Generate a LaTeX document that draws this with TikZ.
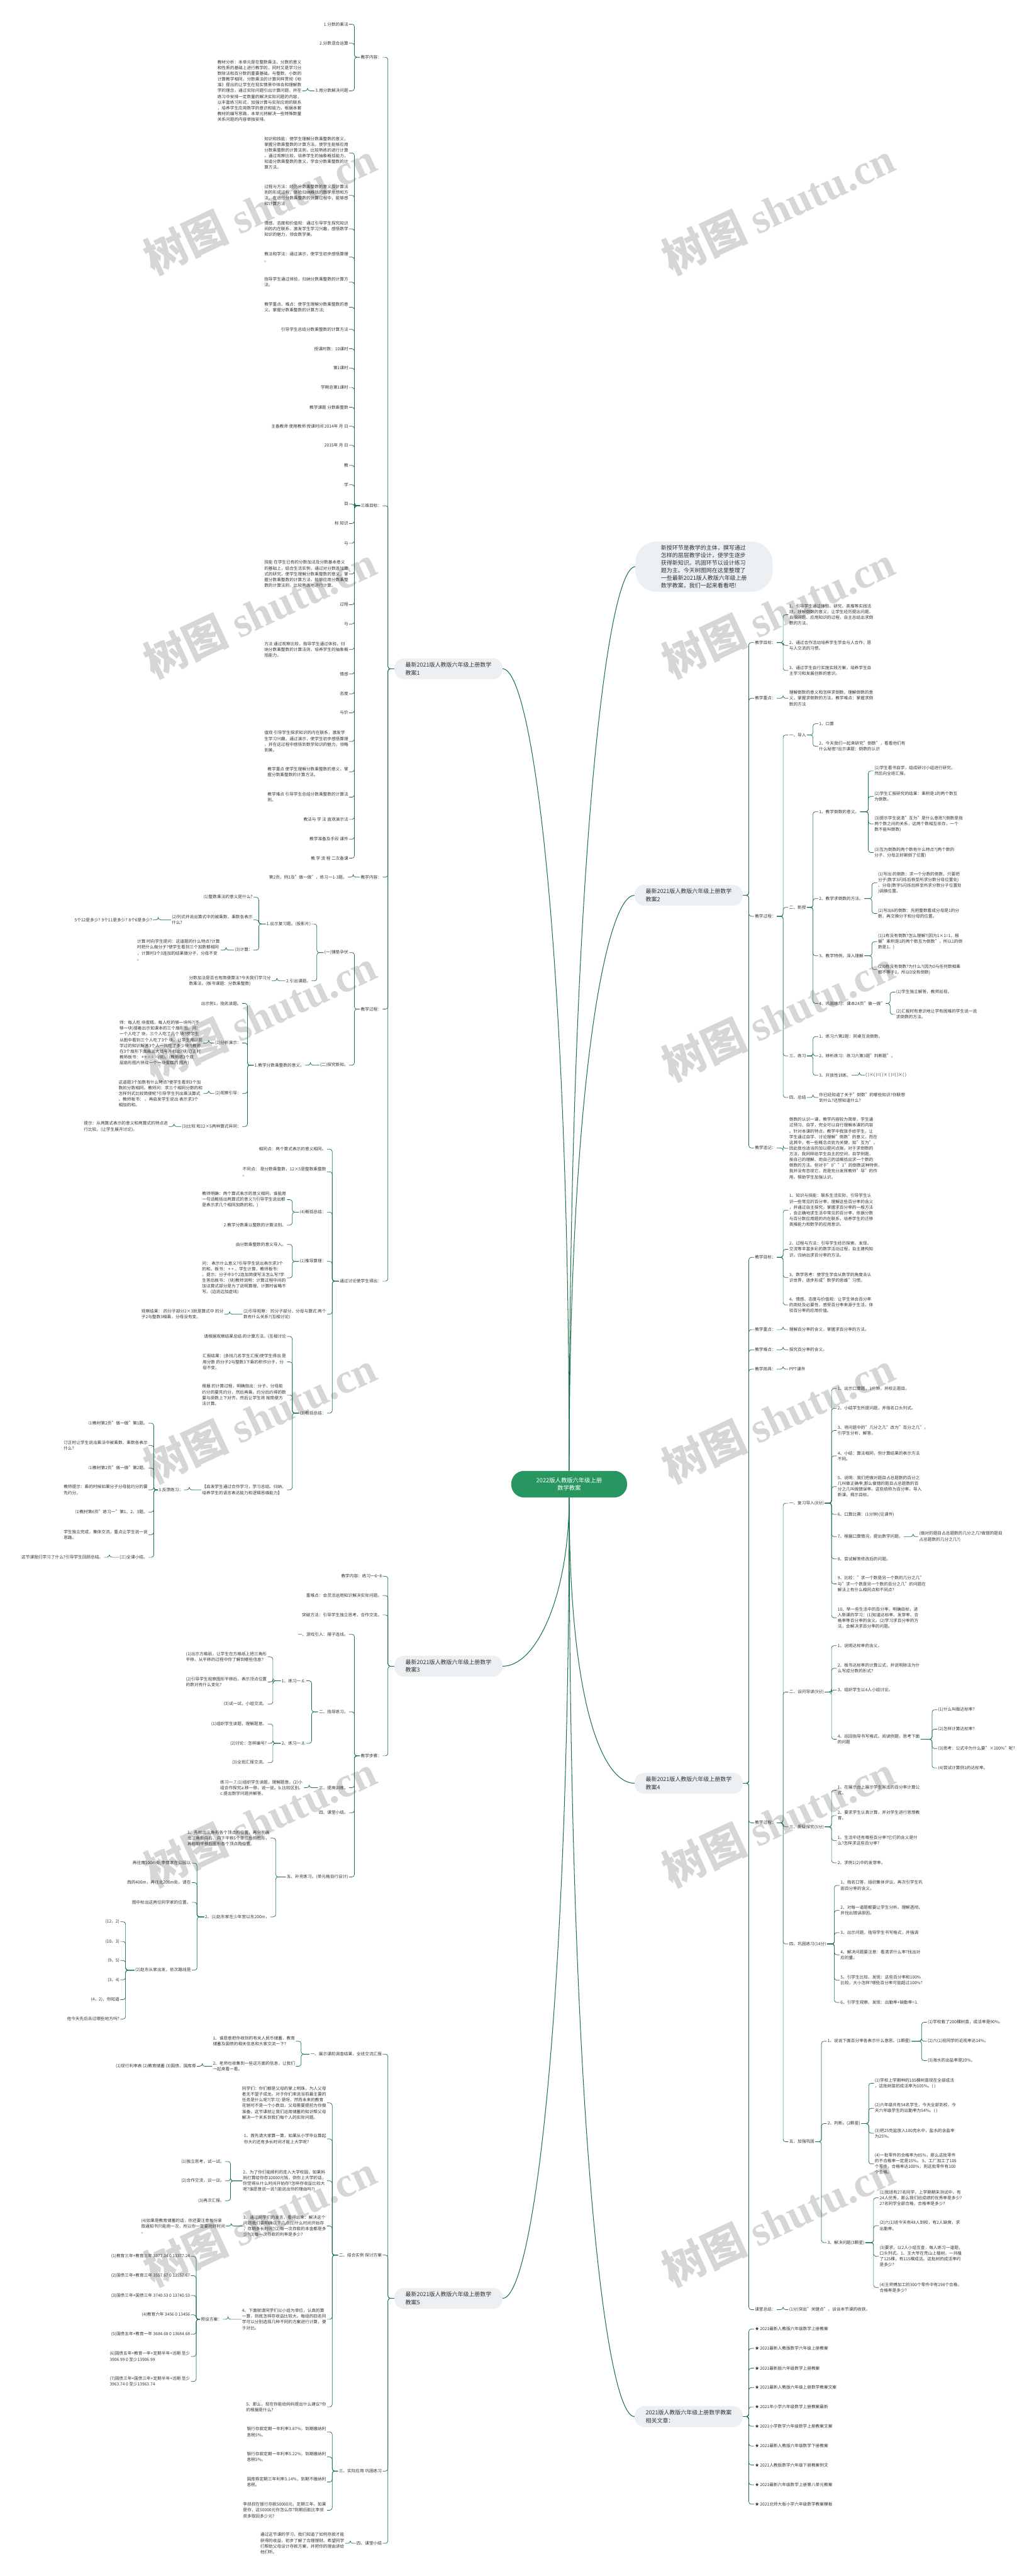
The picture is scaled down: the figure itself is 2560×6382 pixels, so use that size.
\documentclass[tikz,border=0pt]{standalone}
\usepackage{fontspec}
\setmainfont{Noto Sans CJK SC}
\newfontfamily\wmlatin{Liberation Serif}
\definecolor{branchgreen}{RGB}{24,112,70}
\definecolor{rootgreen}{RGB}{40,150,96}
\definecolor{topicgray}{RGB}{236,240,243}
\definecolor{inkgray}{RGB}{51,51,51}
\definecolor{markgray}{RGB}{214,214,214}

\begin{document}
\begin{tikzpicture}[
    x=1pt, y=-1pt,
    txt/.style={font=\fontsize{10.4}{14.2}\selectfont, text=inkgray, inner sep=2pt, align=left},
    lnote/.style={txt, anchor=east},
    rnote/.style={txt, anchor=west},
    topic/.style={fill=topicgray, rounded corners=24pt, minimum width=268pt, minimum height=52pt, inner xsep=24pt, align=left, font=\fontsize{14}{19}\selectfont, text=inkgray},
    intro/.style={fill=topicgray, rounded corners=52pt, minimum width=340pt, minimum height=124pt, align=left, font=\fontsize{14}{18.5}\selectfont, text=inkgray},
    rootbox/.style={fill=rootgreen, rounded corners=32pt, minimum width=287pt, minimum height=66pt, align=center, font=\fontsize{14.5}{19}\selectfont, text=white},
    trunk/.style={draw=branchgreen, line width=1.6pt},
    tol/.style={every edge/.style={draw=branchgreen, line width=1.1pt, rounded corners=6pt, to path={-| ([xshift=13pt]\tikztotarget.east) -- (\tikztotarget.east)}}},
    tor/.style={every edge/.style={draw=branchgreen, line width=1.1pt, rounded corners=6pt, to path={-| ([xshift=-13pt]\tikztotarget.west) -- (\tikztotarget.west)}}},
    wmark/.style={text=markgray, rotate=25, font=\fontsize{105}{105}\selectfont\bfseries}
]

% page
\fill[white] (0,0) rectangle (2560,6382);
\useasboundingbox (0,0) rectangle (2560,6382);

% watermarks
\foreach \y [count=\k] in {515,1515,2515,3510,4510,5500} {
  \node[wmark] (wml\k) at (644,\y) {树图 {\wmlatin shutu.cn}};
  \node[wmark] (wmr\k) at (1928,\y) {树图 {\wmlatin shutu.cn}};
}

% centre
\node[rootbox] (root) at (1410,3677) {2022版人教版六年级上册\\数学教案};

% main topics
\node[topic] (L1) at (1111,1657) {最新2021版人教版六年级上册数学\\教案1};
\node[topic] (L3) at (1111,4128) {最新2021版人教版六年级上册数学\\教案3};
\node[topic] (L5) at (1111,5694) {最新2021版人教版六年级上册数学\\教案5};
\node[intro] (R0) at (1744,1404) {新授环节是教学的主体，撰写通过\\怎样的层层教学设计，使学生逐步\\获得新知识。巩固环节以设计练习\\题为主。今天树图网在这里整理了\\一些最新2021版人教版六年级上册\\数学教案，我们一起来看看吧!};
\node[topic] (R2) at (1706,2218) {最新2021版人教版六年级上册数学\\教案2};
\node[topic] (R4) at (1706,4418) {最新2021版人教版六年级上册数学\\教案4};
\node[topic] (R6) at (1706,5987) {2021版人教版六年级上册数学教案\\相关文章：};

\draw[trunk] (root.north) .. controls (1410,2350) and (1320,1657) .. (L1.east);
\draw[trunk] (root.north) .. controls (1410,2200) and (1500,1404) .. (R0.west);
\draw[trunk] (root.north) .. controls (1410,2700) and (1500,2218) .. (R2.west);
\draw[trunk] (root.south) .. controls (1410,3950) and (1330,4128) .. (L3.east);
\draw[trunk] (root.south) .. controls (1410,4250) and (1500,4418) .. (R4.west);
\draw[trunk] (root.south) .. controls (1410,5000) and (1320,5694) .. (L5.east);
\draw[trunk] (root.south) .. controls (1410,5250) and (1500,5987) .. (R6.west);

% ---------------- 教案1 ----------------
\node[lnote] (L1a) at (948,142) {教学内容：};
\node[lnote] (L1b) at (948,1253) {三维目标：};
\node[lnote] (L1c) at (948,2173) {教学内容：};
\node[lnote] (L1d) at (948,2500) {教学过程：};
\node[lnote] (L1e) at (948,3174) {通过讨论使学生得出：};
\path[tol] (L1.west) edge (L1a) edge (L1b) edge (L1c) edge (L1d) edge (L1e);

\node[lnote] (L1a1) at (865,60) {1.分数的乘法};
\node[lnote] (L1a2) at (865,107) {2.分数混合运算};
\node[lnote] (L1a3) at (865,225) {3.用分数解决问题};
\node[lnote] (L1a3a) at (749,225) {教材分析：本单元是在整数乘法、分数的意义\\和性质的基础上进行教学的，同时又是学习分\\数除法和百分数的重要基础。与整数、小数的\\计算教学相同，分数乘法的计算同样贯彻《标\\准》提出的让学生在现实情景中体会和理解数\\学的理念，通过实际问题引出计算问题，并在\\练习中安排一定数量的解决实际问题的内容，\\以丰富练习形式，加强计算与实际应用的联系\\，培养学生应用数学的意识和能力。根据本套\\教材的编写思路，本单元将解决一些特殊数量\\关系问题的内容单独安排。};
\path[tol] (L1a.west) edge (L1a1) edge (L1a2) edge (L1a3);
\path[tol] (L1a3.west) edge (L1a3a);

% 三维目标
\node[lnote] (L1b1) at (865,379) {知识和技能：使学生理解分数乘整数的意义，\\掌握分数乘整数的计算方法。使学生能够应用\\分数乘整数的计算法则，比较熟练的进行计算\\。通过观察比较，培养学生的抽象概括能力，\\知道分数乘整数的意义，学会分数乘整数的计\\算方法。};
\node[lnote] (L1b2) at (865,484) {过程与方法：经历分数乘整数的意义及计算法\\则的形成过程，体验归纳概括的数学思想和方\\法。在进行分数乘整数的计算过程中，能够感\\知计算方法};
\node[lnote] (L1b3) at (865,567) {情感、态度和价值观：通过引导学生探究知识\\间的内在联系，激发学生学习兴趣，感悟数学\\知识的魅力，领会数学美。};
\node[lnote] (L1b4) at (865,637) {教法和学法：通过演示，使学生初步感悟算理\\。};
\node[lnote] (L1b5) at (865,699) {指导学生通过体验，归纳分数乘整数的计算方\\法。};
\node[lnote] (L1b6) at (865,761) {教学重点、难点：使学生理解分数乘整数的意\\义。掌握分数乘整数的计算方法;};
\node[lnote] (L1b7) at (865,816) {引导学生总结分数乘整数的计算方法};
\node[lnote] (L1b8) at (865,864) {授课时数：10课时};
\node[lnote] (L1b9) at (865,912) {第1课时};
\node[lnote] (L1b10) at (865,960) {学期总第1课时};
\node[lnote] (L1b11) at (865,1009) {教学课题 分数乘整数};
\node[lnote] (L1b12) at (865,1056) {主备教师 使用教师 授课时间 2014年 月 日};
\node[lnote] (L1b13) at (865,1103) {2015年 月 日};
\node[lnote] (L1b14) at (865,1153) {教};
\node[lnote] (L1b15) at (865,1201) {学};
\node[lnote] (L1b16) at (865,1249) {目};
\node[lnote] (L1b17) at (865,1297) {标 知识};
\node[lnote] (L1b18) at (865,1346) {与};
\node[lnote] (L1b19) at (865,1422) {技能 在学生已有的分数加法及分数基本意义\\的基础上，结合生活实例，通过对分数连加算\\式的研究，使学生理解分数乘整数的意义，掌\\握分数乘整数的计算方法，能够应用分数乘整\\数的计算法则，比较熟练地进行计算。};
\node[lnote] (L1b20) at (865,1498) {过程};
\node[lnote] (L1b21) at (865,1546) {与};
\node[lnote] (L1b22) at (865,1609) {方法 通过观察比较，指导学生通过体验，归\\纳分数乘整数的计算法则，培养学生的抽象概\\括能力。};
\node[lnote] (L1b23) at (865,1670) {情感};
\node[lnote] (L1b24) at (865,1719) {态度};
\node[lnote] (L1b25) at (865,1766) {与价};
\node[lnote] (L1b26) at (865,1837) {值观 引导学生探求知识的内在联系，激发学\\生学习兴趣。通过演示，使学生初步感悟算理\\，并在这过程中感悟到数学知识的魅力，领略\\到美。};
\node[lnote] (L1b27) at (865,1912) {教学重点 使学生理解分数乘整数的意义，掌\\握分数乘整数的计算方法。};
\node[lnote] (L1b28) at (865,1975) {教学难点 引导学生总结分数乘整数的计算法\\则。};
\node[lnote] (L1b29) at (865,2030) {教法与 学 法 直观演示法};
\node[lnote] (L1b30) at (865,2079) {教学准备及手段 课件};
\node[lnote] (L1b31) at (865,2126) {教 学 流 程 二次备课};
\foreach \i in {1,...,31} \path[tol] (L1b.west) edge (L1b\i);

\node[lnote] (L1c1) at (862,2173) {第2页，例1及"做一做"，练习一1-3题。};
\path[tol] (L1c.west) edge (L1c1);

% 教学过程
\node[lnote] (L1d1) at (865,2360) {(一)铺垫孕伏};
\node[lnote] (L1d2) at (865,2639) {(二)探究新知。};
\path[tol] (L1d.west) edge (L1d1) edge (L1d2);
\node[lnote] (L1d1a) at (772,2289) {1.出示复习题。(投影片)};
\node[lnote] (L1d1b) at (772,2430) {2.引出课题。};
\path[tol] (L1d1.west) edge (L1d1a) edge (L1d1b);
\node[lnote] (L1d1a1) at (628,2223) {(1)整数乘法的意义是什么?};
\node[lnote] (L1d1a2) at (628,2279) {(2)列式并说出算式中的被乘数、乘数各表示\\什么?};
\node[lnote] (L1d1a3) at (628,2354) {(3)计算：};
\path[tol] (L1d1a.west) edge (L1d1a1) edge (L1d1a2) edge (L1d1a3);
\node[lnote] (L1d1a2x) at (379,2279) {5个12是多少? 9个11是多少? 8个6是多少?};
\node[lnote] (L1d1a3x) at (547,2354) {计算 时向学生提问：这道题的什么特点?计算\\时把什么做分子?使学生看到三个加数都相同\\，计算时3个3连加的结果做分子，分母不变\\。};
\node[lnote] (L1d1bx) at (673,2430) {分数加法是否也有简便算法?今天我们学习分\\数乘法。(板书课题：分数乘整数)};
\path[tol] (L1d1a2.west) edge (L1d1a2x);
\path[tol] (L1d1a3.west) edge (L1d1a3x);
\path[tol] (L1d1b.west) edge (L1d1bx);

\node[lnote] (L1d2a) at (756,2639) {1.教学分数乘整数的意义。};
\path[tol] (L1d2.west) edge (L1d2a);
\node[lnote] (L1d2a1) at (600,2486) {出示例1，指名读题。};
\node[lnote] (L1d2a2) at (600,2584) {(1)分析演示：};
\node[lnote] (L1d2a3) at (600,2709) {(2)观察引导：};
\node[lnote] (L1d2a4) at (600,2791) {(3)比较 和12×5两种算式异同：};
\path[tol] (L1d2a.west) edge (L1d2a1) edge (L1d2a2) edge (L1d2a3) edge (L1d2a4);
\node[lnote] (L1d2a2x) at (504,2584) {师：每人吃 块蛋糕，每人吃的够一块吗?(不\\够一块)接着出示如课本的三个扇形图。问：\\一个人吃了 块，三个人吃了几个 块?使学生\\从图中看到三个人吃了3个 块。让学生用以前\\学过的知识解答3个人一共吃了多少块?(教师\\在3个扇形下面画出大括号并标出?块)订正时\\教师板书： + + = = = (块)。(教师将3个双\\层扇形图片拼成一个一块蛋糕的 图片)};
\node[lnote] (L1d2a3x) at (504,2709) {这道题3个加数有什么特点?使学生看到3个加\\数的分数相同。教师问：求三个相同分数的和\\怎样列式比较简便呢?引导学生列出乘法算式\\。教师板书： 。再启发学生说出 表示求3个\\相加的和。};
\node[lnote] (L1d2a4x) at (418,2791) {提示：从两算式表示的意义和两算式的特点进\\行比较。(让学生展开讨论)。};
\path[tol] (L1d2a2.west) edge (L1d2a2x);
\path[tol] (L1d2a3.west) edge (L1d2a3x);
\path[tol] (L1d2a4.west) edge (L1d2a4x);

% 通过讨论使学生得出
\node[lnote] (L1e1) at (810,2847) {相同点：两个算式表示的意义相同。};
\node[lnote] (L1e2) at (810,2903) {不同点： 是分数乘整数，12×5是整数乘整数\\。};
\node[lnote] (L1e3) at (810,3003) {(4)概括总结：};
\node[lnote] (L1e4) at (810,3125) {(1)推导算理：};
\node[lnote] (L1e5) at (810,3256) {(2)引导观察： 的分子部分、分母与算式 两个\\数有什么关系?(互相讨论)};
\node[lnote] (L1e6) at (810,3501) {(3)概括总结：};
\path[tol] (L1e.west) edge (L1e1) edge (L1e2) edge (L1e3) edge (L1e4) edge (L1e5) edge (L1e6);
\node[lnote] (L1e3a) at (711,2972) {教师明确：两个算式表示的意义相同，谁能用\\一句话概括出两算式的意义?(引导学生说出都\\是表示求几个相同加数的和。)};
\node[lnote] (L1e3b) at (711,3035) {2.教学分数乘以整数的计算法则。};
\path[tol] (L1e3.west) edge (L1e3a) edge (L1e3b);
\node[lnote] (L1e4a) at (711,3083) {由分数乘整数的意义导入。};
\node[lnote] (L1e4b) at (711,3166) {问： 表示什么意义?引导学生说出表示求3个\\的和。板书： + + 。学生计算，教师板书：\\。提示：分子中3个2连加简便写法怎么写?学\\生答后板书： (块)教师说明：计算过程中间的\\加法算式部分是为了说明算理，计算时省略不\\写。(边说边加虚线)};
\path[tol] (L1e4.west) edge (L1e4a) edge (L1e4b);
\node[lnote] (L1e5x) at (556,3256) {观察结果： 的分子部分2×3就是算式中 的分\\子2与整数3相乘，分母没有变。};
\path[tol] (L1e5.west) edge (L1e5x);
\node[lnote] (L1e6a) at (711,3311) {请根据观察结果总结 的计算方法。(互相讨论};
\node[lnote] (L1e6b) at (711,3374) {汇报结果：(多找几名学生汇报)使学生得出 是\\用分数 的分子2与整数3下乘的积作分子，分\\母不变。};
\node[lnote] (L1e6c) at (711,3456) {根据 的计算过程，明确指出：分子、分母能\\约分的要先约分，然后再乘。约分后约得的数\\要与原数上下对齐。然后让学生将 按简便方\\法计算。};
\node[lnote] (L1e6d) at (711,3691) {【启发学生通过合作学习，学习总结、归纳，\\培养学生的语言表达能力和逻辑思维能力】};
\path[tol] (L1e6.west) edge (L1e6a) edge (L1e6b) edge (L1e6c) edge (L1e6d);
\node[lnote] (L1e6dx) at (456,3691) {3.反馈练习：};
\path[tol] (L1e6d.west) edge (L1e6dx);
\node[lnote] (F1) at (368,3526) {⑴教材第2页"做一做"第1题。};
\node[lnote] (F2) at (368,3581) {订正时让学生说出乘法中被乘数、乘数各表示\\什么?};
\node[lnote] (F3) at (368,3637) {⑴教材第2页"做一做"第2题。};
\node[lnote] (F4) at (368,3691) {教师提示：乘的时候如果分子分母能约分的要\\先约分。};
\node[lnote] (F5) at (368,3746) {⑴教材第6页"练习一"第1、2、3题。};
\node[lnote] (F6) at (368,3802) {学生独立完成，集体交流，重点让学生说一说\\思路。};
\node[lnote] (F7) at (368,3858) {(三)全课小结。};
\foreach \i in {1,...,7} \path[tol] (L1e6dx.west) edge (F\i);
\node[lnote] (F7x) at (258,3858) {这节课我们学习了什么?引导学生回顾总结。};
\path[tol] (F7.west) edge (F7x);

% ---------------- 教案3 ----------------
\node[lnote] (L3a) at (948,3905) {教学内容：练习一6\textasciitilde8};
\node[lnote] (L3b) at (948,3953) {重难点：会灵活运用知识解决实际问题。};
\node[lnote] (L3c) at (948,4001) {突破方法：引导学生独立思考，合作交流。};
\node[lnote] (L3d) at (948,4350) {教学步骤：};
\path[tol] (L3.west) edge (L3a) edge (L3b) edge (L3c) edge (L3d);
\node[lnote] (L3d1) at (865,4049) {一、游戏引入：摆子连线。};
\node[lnote] (L3d2) at (865,4241) {二、指导练习。};
\node[lnote] (L3d3) at (865,4429) {三、提高训练。};
\node[lnote] (L3d4) at (865,4491) {四、课堂小结。};
\node[lnote] (L3d5) at (865,4650) {五、补充练习。(单元格自行设计)};
\path[tol] (L3d.west) edge (L3d1) edge (L3d2) edge (L3d3) edge (L3d4) edge (L3d5);
\node[lnote] (L3d2a) at (759,4164) {1、练习一.6.};
\node[lnote] (L3d2b) at (759,4319) {2、练习一.8.};
\path[tol] (L3d2.west) edge (L3d2a) edge (L3d2b);
\node[lnote] (L3d2a1) at (663,4105) {(1)出示方格纸，让学生在方格纸上把三角形\\平移。从平移的过程中你了解到哪些信息?};
\node[lnote] (L3d2a2) at (663,4167) {(2)引导学生观察图形平移后，表示顶点位置\\的数对有什么变化?};
\node[lnote] (L3d2a3) at (663,4222) {(3)试一试，小组交流。};
\path[tol] (L3d2a.west) edge (L3d2a1) edge (L3d2a2) edge (L3d2a3);
\node[lnote] (L3d2b1) at (663,4271) {(1)组织学生读题，理解题意。};
\node[lnote] (L3d2b2) at (663,4319) {(2)讨论：怎样编号?};
\node[lnote] (L3d2b3) at (663,4367) {(3)全班汇报交流。};
\path[tol] (L3d2b.west) edge (L3d2b1) edge (L3d2b2) edge (L3d2b3);
\node[lnote] (L3d3x) at (753,4429) {练习一.7.(1)组织学生读题，理解题意。(2)小\\组合作探究a.移一移，说一说。b.比较区别。\\c.提出数学问题并解答。};
\path[tol] (L3d3.west) edge (L3d3x);
\node[lnote] (L3d5a) at (670,4554) {1、先标出三角形各个顶点的位置，再分别画\\出三角形向右、向下平移5个单位后的图形，\\再标明平移后图形各个顶点的位置。};
\node[lnote] (L3d5b) at (670,4749) {2、(1)赵东家在少年宫以东200m，};
\path[tol] (L3d5.west) edge (L3d5a) edge (L3d5b);
\node[lnote] (L3d5b1) at (475,4616) {再往南100m处;李倩家在公园以};
\node[lnote] (L3d5b2) at (475,4664) {西的400m，再往北200m处。请在};
\node[lnote] (L3d5b3) at (475,4713) {图中标出这两位同学家的位置。};
\node[lnote] (L3d5b4) at (475,4881) {(2)赵东从家出发，依次路线是};
\path[tol] (L3d5b.west) edge (L3d5b1) edge (L3d5b2) edge (L3d5b3) edge (L3d5b4);
\node[lnote] (P1) at (298,4761) {(12，2)};
\node[lnote] (P2) at (298,4810) {(10，3)};
\node[lnote] (P3) at (298,4857) {(9，5)};
\node[lnote] (P4) at (298,4905) {(3，4)};
\node[lnote] (P5) at (298,4954) {(4，2)，你知道};
\node[lnote] (P6) at (298,5002) {他今天先后去过哪些地方吗?};
\foreach \i in {1,...,6} \path[tol] (L3d5b4.west) edge (P\i);

% ---------------- 教案5 ----------------
\node[lnote] (L5a) at (948,5089) {一、展示课前调查结果，全班交流汇报};
\node[lnote] (L5b) at (948,5587) {二、结合实例 探讨方案};
\node[lnote] (L5c) at (948,6122) {三、实际应用 巩固练习};
\node[lnote] (L5d) at (948,6301) {四、课堂小结};
\path[tol] (L5.west) edge (L5a) edge (L5b) edge (L5c) edge (L5d);
\node[lnote] (L5a1) at (733,5057) {1、谁愿意把你收到的有关人民币储蓄、教育\\储蓄及国债的相关信息和大家交流一下?};
\node[lnote] (L5a2) at (733,5119) {2、老师也收集到一些这方面的信息，让我们\\一起来看一看。};
\path[tol] (L5a.west) edge (L5a1) edge (L5a2);
\node[lnote] (L5a2x) at (488,5119) {(1)现行利率表 (2)教育储蓄 (3)国债、国库券};
\path[tol] (L5a2.west) edge (L5a2x);
\node[lnote] (L5b1) at (810,5210) {同学们：你们都是父母的掌上明珠，为人父母\\者无不望子成龙。对于你们来说当前最主要的\\任务是什么呢?(学习) 是呀，然而未来的教育\\花销可不是一个小数目，父母需要提前为你做\\准备。这节课就让我们运用储蓄的知识帮父母\\解决一个关系到我们每个人的实际问题。};
\node[lnote] (L5b2) at (810,5299) {1、首先请大家算一算，如果从小学毕业算起\\你大约还有多长时间才能上大学呢?};
\node[lnote] (L5b3) at (810,5403) {2、为了你们能顺利的走入大学校园，如果妈\\妈打算给你存10000元钱，供你上大学的话，\\你觉得从什么时间开始存?怎样存收益比较大\\呢?谁愿意说一说?(能说出你的理由吗?)};
\node[lnote] (L5b4) at (810,5515) {3、通过同学们的发言，看得出来：解决这个\\问题我们要明确以下几点(1)什么时间开始存\\，存期多长时间?(2)每一次存款的本金都是多\\少?(3)每一次存款的利率是多少?};
\node[lnote] (L5b5) at (810,5746) {4、下面就请同学们以小组为单位，认真的算\\一算，到底怎样存收益比较大。每组的四名同\\学可以分别选择几种不同的方案进行计算，便\\于对比。};
\node[lnote] (L5b6) at (810,5963) {5、那么，现在你能给妈妈提出什么建议?你\\的根据是什么?};
\path[tol] (L5b.west) edge (L5b1) edge (L5b2) edge (L5b3) edge (L5b4) edge (L5b5) edge (L5b6);
\node[lnote] (L5b3a) at (558,5355) {(1)独立思考，试一试。};
\node[lnote] (L5b3b) at (558,5403) {(2)合作交流，议一议。};
\node[lnote] (L5b3c) at (558,5452) {(3)再次汇报。};
\path[tol] (L5b3.west) edge (L5b3a) edge (L5b3b) edge (L5b3c);
\node[lnote] (L5b4x) at (560,5515) {(4)如果是教育储蓄的话，你还要注意每份录\\取通知书只能用一次，所以你一定要抢好时间\\。};
\path[tol] (L5b4.west) edge (L5b4x);
\node[lnote] (L5b5x) at (552,5746) {预设方案：};
\path[tol] (L5b5.west) edge (L5b5x);
\node[lnote] (S1) at (473,5590) {(1)教育三年+教育三年 3377.24 0 13377.24};
\node[lnote] (S2) at (473,5638) {(2)国债三年+教育三年 3557.67 0 13557.67};
\node[lnote] (S3) at (473,5687) {(3)国债三年+国债三年 3740.53 0 13740.53};
\node[lnote] (S4) at (473,5735) {(4)教育六年 3456 0 13456};
\node[lnote] (S5) at (473,5783) {(5)国债五年+教育一年 3684.68 0 13684.68};
\node[lnote] (S6) at (473,5838) {(6)国债五年+教育一年+定期半年+活期 至少\\3906.99 0 至少13906.99};
\node[lnote] (S7) at (473,5900) {(7)国债三年+国债三年+定期半年+活期 至少\\3963.74 0 至少13963.74};
\foreach \i in {1,...,7} \path[tol] (L5b5x.west) edge (S\i);
\node[lnote] (L5c1) at (810,6025) {银行存款定期一年利率3.87\%，到期缴纳利\\息税5\%。};
\node[lnote] (L5c2) at (810,6087) {银行存款定期一年利率5.22\%，到期缴纳利\\息税5\%。};
\node[lnote] (L5c3) at (810,6149) {国库券定期三年利率3.14\%，到期不缴纳利\\息税。};
\node[lnote] (L5c4) at (810,6219) {李叔叔在银行存款50000元，定期三年。如果\\是你，这50000元你怎么存?到期后能比李叔\\叔多取回多少元?};
\path[tol] (L5c.west) edge (L5c1) edge (L5c2) edge (L5c3) edge (L5c4);
\node[lnote] (L5dx) at (855,6301) {通过这节课的学习，我们知道了如何存款才能\\获得的收益，初步了解了合理理财。希望同学\\们帮助父母设计存款方案，并把你的理由讲给\\他们听。};
\path[tol] (L5d.west) edge (L5dx);

% ---------------- 教案2 ----------------
\node[rnote] (R2a) at (1868,1592) {教学目标：};
\node[rnote] (R2b) at (1868,1730) {教学重点：};
\node[rnote] (R2c) at (1868,2270) {教学过程：};
\node[rnote] (R2d) at (1868,2844) {教学追记：};
\path[tor] (R2.east) edge (R2a) edge (R2b) edge (R2c) edge (R2d);
\node[rnote] (R2a1) at (1953,1523) {1、引导学生通过体验、研究、类推等实践活\\动，理解倒数的意义，让学生经历提出问题、\\自探问题、应用知识的过程，自主总结出求倒\\数的方法。};
\node[rnote] (R2a2) at (1953,1599) {2、通过合作活动培养学生学会与人合作，愿\\与人交流的习惯。};
\node[rnote] (R2a3) at (1953,1661) {3、通过学生自行实施实践方案，培养学生自\\主学习和发展创新的意识。};
\path[tor] (R2a.east) edge (R2a1) edge (R2a2) edge (R2a3);
\node[rnote] (R2bx) at (1953,1730) {理解倒数的意义和怎样求倒数。理解倒数的意\\义，掌握求倒数的方法。教学难点：掌握求倒\\数的方法};
\path[tor] (R2b.east) edge (R2bx);
\node[rnote] (R2c1) at (1953,1821) {一、导入};
\node[rnote] (R2c2) at (1953,2248) {二、新授};
\node[rnote] (R2c3) at (1953,2616) {三、练习};
\node[rnote] (R2c4) at (1953,2719) {四、总结};
\path[tor] (R2c.east) edge (R2c1) edge (R2c2) edge (R2c3) edge (R2c4);
\node[rnote] (R2c1a) at (2027,1793) {1、口算};
\node[rnote] (R2c1b) at (2027,1849) {2、今天我们一起来研究"倒数"，看看他们有\\什么秘密?出示课题：倒数的认识};
\path[tor] (R2c1.east) edge (R2c1a) edge (R2c1b);
\node[rnote] (R2c2a) at (2027,2011) {1、教学倒数的意义。};
\node[rnote] (R2c2b) at (2027,2226) {2、教学求倒数的方法。};
\node[rnote] (R2c2c) at (2027,2368) {3、教学特例，深入理解};
\node[rnote] (R2c2d) at (2027,2486) {4、巩固练习：课本24页"做一做"};
\path[tor] (R2c2.east) edge (R2c2a) edge (R2c2b) edge (R2c2c) edge (R2c2d);
\node[rnote] (R2c2a1) at (2164,1910) {(1)学生看书自学，组成研讨小组进行研究，\\然后向全班汇报。};
\node[rnote] (R2c2a2) at (2164,1973) {(2)学生汇报研究的结果：乘积是1的两个数互\\为倒数。};
\node[rnote] (R2c2a3) at (2164,2041) {(3)提示学生说清"互为"是什么意思?(倒数是指\\两个数之间的关系，这两个数相互依存，一个\\数不能叫倒数)};
\node[rnote] (R2c2a4) at (2164,2112) {(3)互为倒数的两个数有什么特点?(两个数的\\分子、分母正好颠倒了位置)};
\path[tor] (R2c2a.east) edge (R2c2a1) edge (R2c2a2) edge (R2c2a3) edge (R2c2a4);
\node[rnote] (R2c2b1) at (2173,2187) {(1)写出 的倒数：求一个分数的倒数，只要把\\分子(数字3闪烁后移至所求分数分母位置处)\\、分母(数字5闪烁后移至所求分数分子位置处\\)调换位置。};
\node[rnote] (R2c2b2) at (2173,2263) {(2)写出6的倒数：先把整数看成分母是1的分\\数，再交换分子和分母的位置。};
\path[tor] (R2c2b.east) edge (R2c2b1) edge (R2c2b2);
\node[rnote] (R2c2c1) at (2173,2333) {(1)1有没有倒数?怎么理解?(因为1×1=1，根\\据"乘积是1的两个数互为倒数"，所以1的倒\\数是1。)};
\node[rnote] (R2c2c2) at (2173,2402) {(2)0有没有倒数?为什么?(因为0与任何数相乘\\都不等于1，所以0没有倒数)};
\path[tor] (R2c2c.east) edge (R2c2c1) edge (R2c2c2);
\node[rnote] (R2c2d1) at (2218,2458) {(1)学生独立解答，教师巡视。};
\node[rnote] (R2c2d2) at (2218,2513) {(2)汇报时有意识地让学有困难的学生说一说\\求倒数的方法。};
\path[tor] (R2c2d.east) edge (R2c2d1) edge (R2c2d2);
\node[rnote] (R2c3a) at (2027,2568) {1、练习六第2题：同桌互说倒数。};
\node[rnote] (R2c3b) at (2027,2616) {2、辨析练习：练习六第3题"判断题"。};
\node[rnote] (R2c3c) at (2027,2664) {3、开放性训练。};
\path[tor] (R2c3.east) edge (R2c3a) edge (R2c3b) edge (R2c3c);
\node[rnote] (R2c3cx) at (2142,2664) {( )×( )=( )× ( )=( )×( )};
\path[tor] (R2c3c.east) edge (R2c3cx);
\node[rnote] (R2c4x) at (2027,2719) {你已经知道了关于"倒数"的哪些知识?你联想\\到什么?还想知道什么?};
\path[tor] (R2c4.east) edge (R2c4x);
\node[rnote] (R2dx) at (1953,2845) {倒数的认识一课，教学内容较为简单，学生通\\过预习、自学，完全可以自行理解本课的内容\\。针对本课的特点，教学中我放手给学生，让\\学生通过自学、讨论理解"倒数"的意义，而在\\这其中，有一些概念点犹为关键，如"互为"，\\因此我也适当的加以提问点拨。对于求倒数的\\方法，我同样给学生自主的空间，自学例题，\\按自己的理解、用自己的话概括出求一个数的\\倒数的方法。但对于"0""1"的倒数这种特例，\\我并没有忽视它，而是充分发挥教师"导"的作\\用，帮助学生加强认识。};
\path[tor] (R2d.east) edge (R2dx);

% ---------------- 教案4 ----------------
\node[rnote] (R4a) at (1868,3115) {教学目标：};
\node[rnote] (R4b) at (1868,3294) {教学重点：};
\node[rnote] (R4c) at (1868,3344) {教学难点：};
\node[rnote] (R4d) at (1868,3392) {教学用具：};
\node[rnote] (R4e) at (1868,4516) {教学过程：};
\node[rnote] (R4f) at (1868,5722) {课堂总结：};
\path[tor] (R4.east) edge (R4a) edge (R4b) edge (R4c) edge (R4d) edge (R4e) edge (R4f);
\node[rnote] (R4a1) at (1953,2998) {1、知识与技能：联系生活实际，引导学生认\\识一些常见的百分率，理解这些百分率的含义\\，并通过自主探究，掌握求百分率的一般方法\\，会正确地求生活中常见的百分率，依据分数\\与百分数应用题的内在联系，培养学生的迁移\\类推能力和数学的应用意识。};
\node[rnote] (R4a2) at (1953,3095) {2、过程与方法：引导学生经历探索、发现、\\交流等丰富多彩的数学活动过程，自主建构知\\识，归纳出求百分率的方法。};
\node[rnote] (R4a3) at (1953,3165) {3、数学思考：使学生学会从数学的角度去认\\识世界，逐步形成"数学的思维"习惯。};
\node[rnote] (R4a4) at (1953,3233) {4、情感、态度与价值观：让学生体会百分率\\的用处及必要性，感受百分率来源于生活，体\\验百分率的应用价值。};
\path[tor] (R4a.east) edge (R4a1) edge (R4a2) edge (R4a3) edge (R4a4);
\node[rnote] (R4bx) at (1953,3294) {理解百分率的含义，掌握求百分率的方法。};
\node[rnote] (R4cx) at (1953,3344) {探究百分率的含义。};
\node[rnote] (R4dx) at (1953,3392) {PPT课件};
\path[tor] (R4b.east) edge (R4bx);
\path[tor] (R4c.east) edge (R4cx);
\path[tor] (R4d.east) edge (R4dx);

\node[rnote] (R4e1) at (1953,3724) {一、复习导入(8分)};
\node[rnote] (R4e2) at (1953,4192) {二、设问导读(9分)};
\node[rnote] (R4e3) at (1953,4526) {三、质疑探究(5分)};
\node[rnote] (R4e4) at (1953,4816) {四、巩固练习(14分)};
\node[rnote] (R4e5) at (1953,5306) {五、加强巩固};
\path[tor] (R4e.east) edge (R4e1) edge (R4e2) edge (R4e3) edge (R4e4) edge (R4e5);
\node[rnote] (R4e1a) at (2073,3440) {1、出示口算题，1分钟，并校正题目。};
\node[rnote] (R4e1b) at (2073,3489) {2、小结学生所提问题，并指名口头列式。};
\node[rnote] (R4e1c) at (2073,3544) {3、将问题中的"几分之几"改为"百分之几"，\\引学生分析、解答。};
\node[rnote] (R4e1d) at (2073,3607) {4、小结：算法相同，但计算结果的表示方法\\不同。};
\node[rnote] (R4e1e) at (2073,3683) {5、说明：我们把做对题目占总题数的百分之\\几叫做正确率;那么做错的题目占总题数的百\\分之几叫做错误率。这些统称为百分率。导入\\新课，揭示目标。};
\node[rnote] (R4e1f) at (2073,3752) {6、口算比赛：(1分钟)(见课件)};
\node[rnote] (R4e1g) at (2073,3807) {7、根据口算情况，提出数学问题。};
\node[rnote] (R4e1h) at (2073,3862) {8、尝试解答修改后的问题。};
\node[rnote] (R4e1i) at (2073,3924) {9、比较："求一个数是另一个数的几分之几"\\与"求一个数是另一个数的百分之几"的问题在\\解法上有什么相同点和不同点?};
\node[rnote] (R4e1j) at (2073,4008) {10、举一些生活中的百分率，明确目标，进\\入新课的学习：(1)知道达标率、发芽率、合\\格率等百分率的含义。(2)学习求百分率的方\\法，会解决求百分率的问题。};
\path[tor] (R4e1.east) edge (R4e1a) edge (R4e1b) edge (R4e1c) edge (R4e1d) edge (R4e1e) edge (R4e1f) edge (R4e1g) edge (R4e1h) edge (R4e1i) edge (R4e1j);
\node[rnote] (R4e1gx) at (2275,3807) {(做对的题目占总题数的几分之几?做错的题目\\占总题数的几分之几?)};
\path[tor] (R4e1g.east) edge (R4e1gx);
\node[rnote] (R4e2a) at (2073,4077) {1、说明达标率的含义。};
\node[rnote] (R4e2b) at (2073,4133) {2、板书达标率的计算公式，并说明除法为什\\么写成分数的形式?};
\node[rnote] (R4e2c) at (2073,4187) {3、组织学生以4人小组讨论。};
\node[rnote] (R4e2d) at (2073,4309) {4、巡回指导书写格式。阅读例题，思考下面\\的问题};
\path[tor] (R4e2.east) edge (R4e2a) edge (R4e2b) edge (R4e2c) edge (R4e2d);
\node[rnote] (R4e2d1) at (2322,4236) {(1)什么叫做达标率?};
\node[rnote] (R4e2d2) at (2322,4284) {(2)怎样计算达标率?};
\node[rnote] (R4e2d3) at (2322,4332) {(3)思考：公式中为什么要"×100\%"呢?};
\node[rnote] (R4e2d4) at (2322,4380) {(4)尝试计算例1的达标率。};
\path[tor] (R4e2d.east) edge (R4e2d1) edge (R4e2d2) edge (R4e2d3) edge (R4e2d4);
\node[rnote] (R4e3a) at (2073,4435) {1、在展示台上展示学生写出的百分率计算公\\式。};
\node[rnote] (R4e3b) at (2073,4498) {2、要求学生认真计算，并对学生进行思想教\\育。};
\node[rnote] (R4e3c) at (2073,4560) {1、生活中还有哪些百分率?它们的含义是什\\么?怎样求这些百分率?};
\node[rnote] (R4e3d) at (2073,4615) {2、求例1(2)中的发芽率。};
\path[tor] (R4e3.east) edge (R4e3a) edge (R4e3b) edge (R4e3c) edge (R4e3d);
\node[rnote] (R4e4a) at (2080,4671) {1、指名口答，组织集体评议，再次引学生巩\\固百分率的含义。};
\node[rnote] (R4e4b) at (2080,4733) {2、对每一道题都要让学生分析、理解透彻，\\并找出错误原因。};
\node[rnote] (R4e4c) at (2080,4788) {3、出示问题，指导学生书写格式，并强调};
\node[rnote] (R4e4d) at (2080,4843) {4、解决问题要注意：看清求什么率?找出对\\应的量。};
\node[rnote] (R4e4e) at (2080,4906) {5、引学生比较、发现：这些百分率和100\%\\比较，大小怎样?哪些百分率可能超过100\%?};
\node[rnote] (R4e4f) at (2080,4961) {6、引学生观察、发现：出勤率+缺勤率=1.};
\path[tor] (R4e4.east) edge (R4e4a) edge (R4e4b) edge (R4e4c) edge (R4e4d) edge (R4e4e) edge (R4e4f);
\node[rnote] (R4e5a) at (2048,5057) {1、说说下面百分率各表示什么意思。(1颗星)};
\node[rnote] (R4e5b) at (2048,5261) {2、判断。(2颗星)};
\node[rnote] (R4e5c) at (2048,5556) {3、解决问题(3颗星)};
\path[tor] (R4e5.east) edge (R4e5a) edge (R4e5b) edge (R4e5c);
\node[rnote] (R4e5a1) at (2296,5010) {(1)学校栽了200棵树苗，成活率是90\%。};
\node[rnote] (R4e5a2) at (2296,5057) {(2)六(1)班同学的近视率达14\%。};
\node[rnote] (R4e5a3) at (2296,5105) {(3)海水的出盐率是20\%。};
\path[tor] (R4e5a.east) edge (R4e5a1) edge (R4e5a2) edge (R4e5a3);
\node[rnote] (R4e5b1) at (2165,5161) {(1)学校上学期种的105棵树苗现在全部成活\\，这批树苗的成活率为105\%。( )};
\node[rnote] (R4e5b2) at (2165,5223) {(2)六年级共有54名学生，今天全部到校，今\\天六年级学生的出勤率为54\%。( )};
\node[rnote] (R4e5b3) at (2165,5285) {(3)把25克盐放入100克水中，盐水的含盐率\\为25\%。};
\node[rnote] (R4e5b4) at (2165,5361) {(4)一批零件的合格率为85\%，那么这批零件\\的不合格率一定是15\%。 5、工厂加工了105\\个零件，合格率达100\%，则这批零件有100\\个合格。};
\path[tor] (R4e5b.east) edge (R4e5b1) edge (R4e5b2) edge (R4e5b3) edge (R4e5b4);
\node[rnote] (R4e5c1) at (2177,5445) {(1)我班有27名同学，上学期期末测试中，有\\24人优秀，那么我们班成绩的优秀率是多少?\\27名同学全部合格，合格率是多少?};
\node[rnote] (R4e5c2) at (2177,5514) {(2)六(1)班今天有48人到校，有2人缺席，求\\出勤率。};
\node[rnote] (R4e5c3) at (2177,5590) {(3)要求，以2人小组互查，每人练习一道题，\\口头列式。1、王大爷在荒山上植树，一共植\\了125棵，有115棵成活。这批树的成活率约\\是多少?};
\node[rnote] (R4e5c4) at (2177,5667) {(4)王师傅加工的300个零件中有298个合格，\\合格率是多少?};
\path[tor] (R4e5c.east) edge (R4e5c1) edge (R4e5c2) edge (R4e5c3) edge (R4e5c4);
\node[rnote] (R4fx) at (1953,5722) {(1分)突出"关键点"。谈谈本节课的收获。};
\path[tor] (R4f.east) edge (R4fx);

% ---------------- 相关文章 ----------------
\node[rnote] (K1) at (1868,5770) {★ 2021最新人教版六年级数学上册教案};
\node[rnote] (K2) at (1868,5818) {★ 2021最新人教版数学六年级上册教案};
\node[rnote] (K3) at (1868,5867) {★ 2021最新版六年级数学上册教案};
\node[rnote] (K4) at (1868,5915) {★ 2021最新人教版六年级上册数学教案文案};
\node[rnote] (K5) at (1868,5963) {★ 2021年小学六年级数学上册教案最新};
\node[rnote] (K6) at (1868,6011) {★ 2021小学数学六年级数学上册教案文案};
\node[rnote] (K7) at (1868,6060) {★ 2021最新人教版六年级数学下册教案};
\node[rnote] (K8) at (1868,6107) {★ 2021人教版数学六年级下册教案例文};
\node[rnote] (K9) at (1868,6156) {★ 2021最新六年级数学上册第八单元教案};
\node[rnote] (K10) at (1868,6204) {★ 2021北师大版小学六年级数学教案模板};
\foreach \i in {1,...,10} \path[tor] (R6.east) edge (K\i);

\end{tikzpicture}
\end{document}
